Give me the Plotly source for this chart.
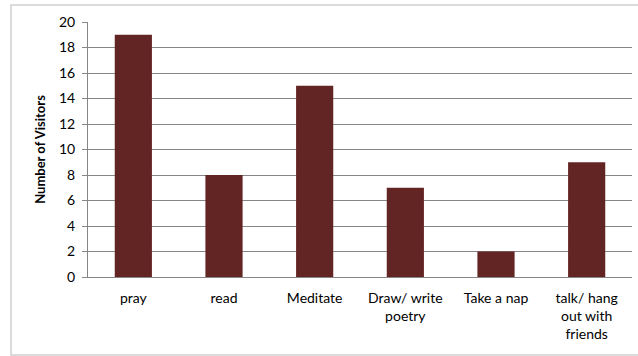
import plotly.graph_objects as go

categories = ["pray", "read", "Meditate", "Draw/ write<br>poetry", "Take a nap", "talk/ hang<br>out with<br>friends"]
visitors = [19, 8, 15, 7, 2, 9]
y_ticks = list(range(0, 21, 2))

L, R, T, B = 88, 6, 22, 79
W, H = 638, 356
pw, ph = W - L - R, H - T - B

fig = go.Figure(go.Bar(x=categories, y=visitors, marker=dict(color="#632523", line=dict(width=0)), width=0.41))

fig.update_layout(
    width=W, height=H,
    margin=dict(l=L, r=R, t=T, b=B),
    paper_bgcolor="white", plot_bgcolor="white",
    font=dict(family="Lato, Carlito, sans-serif", size=14, color="#000"),
    showlegend=False,
    xaxis=dict(showgrid=False, showline=True, linecolor="#868686", linewidth=1, ticks="",
               tickfont=dict(size=14), ticklabelstandoff=8, fixedrange=True),
    yaxis=dict(range=[0, 20], tickvals=y_ticks, showgrid=True, gridcolor="#868686", gridwidth=1,
               showline=True, linecolor="#868686", ticks="outside", ticklen=5, tickcolor="#868686",
               zeroline=False, tickfont=dict(size=14), ticklabelstandoff=4,
               title=dict(text="<b>Number of Visitors</b>", font=dict(size=13), standoff=10)),
    shapes=[dict(type="rect", xref="paper", yref="paper",
                 x0=(11 - L) / pw, x1=(W + 5 - L) / pw,
                 y0=(T + ph - 355) / ph, y1=(T + ph - 5) / ph,
                 line=dict(color="#d0d0d0", width=1.5), fillcolor="rgba(0,0,0,0)", layer="below")],
)

fig.write_html("out.html")
